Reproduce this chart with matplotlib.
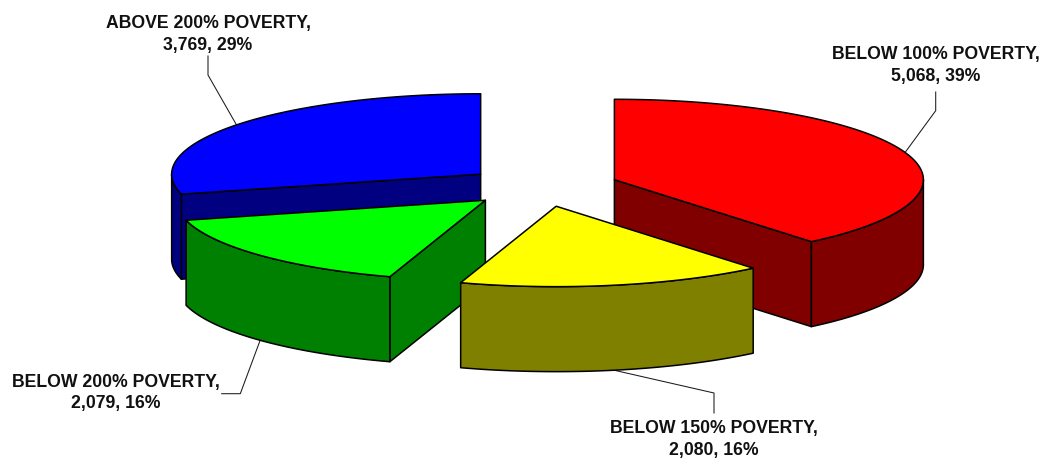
import numpy as np
import matplotlib
matplotlib.use("Agg")
import matplotlib.pyplot as plt
from matplotlib.patches import Polygon

# Household counts by poverty level, clockwise from twelve o'clock
categories = ["BELOW 100% POVERTY", "BELOW 150% POVERTY", "BELOW 200% POVERTY", "ABOVE 200% POVERTY"]
counts = [5068, 2080, 2079, 3769]
percent_labels = ["39%", "16%", "16%", "29%"]
top_colors = ["#FF0000", "#FFFF00", "#00FF00", "#0000FF"]
side_colors = ["#800000", "#808000", "#008000", "#000080"]

# Pie projection in pixel units
CENTER = (541.7, 186.5)
RX, RY = 309.0, 80.4
DEPTH = 85.0
EXPLODE = 0.25

# Label centre and the leader bend points, one entry per slice
label_xy = [(935.5, 65.5), (714, 439.5), (116, 393), (208, 34.5)]
leader_bends = [
    [(935.7, 92), (935.7, 110.7)],
    [(714, 413), (714, 393)],
    [(221.7, 393.7), (240.3, 393.7)],
    [(208, 56), (208, 75)],
]

fig = plt.figure(figsize=(10.48, 4.62), dpi=100)
ax = fig.add_axes([0, 0, 1, 1])
ax.set_xlim(0, 1048)
ax.set_ylim(462, 0)
ax.axis("off")


def rim(cx, cy, angles, drop=0.0):
    """Points on the slice's ellipse; angles run clockwise from the top, in degrees."""
    t = np.radians(angles)
    return np.column_stack([cx + RX * np.sin(t), cy - RY * np.cos(t) + drop])


def face(points, color, z):
    ax.add_patch(Polygon(points, closed=True, facecolor=color, edgecolor="black",
                         linewidth=1.1, joinstyle="round", zorder=z))


total = sum(counts)
bounds = 360 * np.cumsum([0] + counts) / total
# Slices are painted back to front so nearer walls hide farther ones
paint_order = [3, 2, 0, 1]

for rank, i in enumerate(paint_order):
    start, end = bounds[i], bounds[i + 1]
    mid = np.radians((start + end) / 2)
    cx = CENTER[0] + EXPLODE * RX * np.sin(mid)
    cy = CENTER[1] - EXPLODE * RY * np.cos(mid)
    z = 2 + rank * 3

    # Cut faces, drawn only when they turn toward the viewer
    if np.sin(np.radians(start)) < -1e-6:
        edge = rim(cx, cy, [start])[0]
        face([(cx, cy), edge, edge + (0, DEPTH), (cx, cy + DEPTH)], side_colors[i], z)
    if np.sin(np.radians(end)) > 1e-6:
        edge = rim(cx, cy, [end])[0]
        face([(cx, cy), edge, edge + (0, DEPTH), (cx, cy + DEPTH)], side_colors[i], z)

    # Outer wall, only on the front half of the ellipse
    lo, hi = max(start, 90), min(end, 270)
    if hi > lo:
        arc = np.linspace(lo, hi, 80)
        face(np.vstack([rim(cx, cy, arc), rim(cx, cy, arc[::-1], DEPTH)]), side_colors[i], z + 1)

    # Top surface
    arc = np.linspace(start, end, 160)
    face(np.vstack([[(cx, cy)], rim(cx, cy, arc)]), top_colors[i], z + 2)

    # Leader line from the label to the middle of the slice's outer edge
    anchor = rim(cx, cy, [np.degrees(mid)], DEPTH if 90 < np.degrees(mid) < 270 else 0.0)[0]
    path = np.array(leader_bends[i] + [tuple(anchor)])
    ax.plot(path[:, 0], path[:, 1], color="#1a1a1a", linewidth=0.75, zorder=1)

    # Two-line data label
    ax.text(*label_xy[i], f"{categories[i]},\n{counts[i]:,}, {percent_labels[i]}",
            ha="center", va="center", ma="center", fontsize=12.7, fontweight="bold",
            family="Liberation Sans", color="#111111", linespacing=1.38, zorder=30)

fig.savefig("out.png", dpi=100, facecolor="white")
